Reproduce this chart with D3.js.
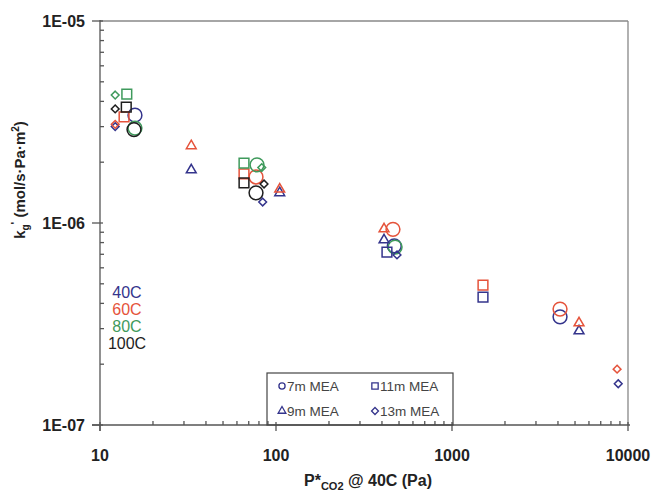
<!DOCTYPE html>
<html><head><meta charset="utf-8">
<script src="https://cdn.jsdelivr.net/npm/d3@7"></script>
<style>body{margin:0;background:#fff}svg{display:block}</style>
</head><body>
<script>
// ---- data ----
const temperatures = ["40C", "60C", "80C", "100C"];
const solutions = ["7m MEA", "9m MEA", "11m MEA", "13m MEA"];
const xTickLabels = ["10", "100", "1000", "10000"];
const yTickLabels = ["1E-07", "1E-06", "1E-05"];

// 7m MEA (circles)
const mea7_P = [15.8, 470, 4110, 77, 462, 4110, 78, 15.8, 475, 15.6, 77];
const mea7_k = [3.42e-6, 7.7e-7, 3.43e-7, 1.69e-6, 9.3e-7, 3.75e-7, 1.94e-6, 2.95e-6, 7.6e-7, 2.9e-6, 1.41e-6];
const mea7_T = ["40C","40C","40C","60C","60C","60C","80C","80C","80C","100C","100C"];
// 9m MEA (triangles)
const mea9_P = [33, 105, 411, 5270, 33, 105, 411, 5270];
const mea9_k = [1.83e-6, 1.41e-6, 8.24e-7, 2.92e-7, 2.41e-6, 1.47e-6, 9.34e-7, 3.2e-7];
const mea9_T = ["40C","40C","40C","40C","60C","60C","60C","60C"];
// 11m MEA (squares)
const mea11_P = [427, 1500, 13.7, 65.8, 1500, 14.2, 65.8, 14.1, 65.8];
const mea11_k = [7.18e-7, 4.3e-7, 3.35e-6, 1.75e-6, 4.93e-7, 4.35e-6, 1.98e-6, 3.75e-6, 1.58e-6];
const mea11_T = ["40C","40C","60C","60C","60C","80C","80C","100C","100C"];
// 13m MEA (diamonds)
const mea13_P = [12.2, 84, 487, 8800, 12.2, 8670, 12.2, 83, 12.2, 85.5];
const mea13_k = [3.0e-6, 1.27e-6, 6.95e-7, 1.6e-7, 3.08e-6, 1.89e-7, 4.3e-6, 1.88e-6, 3.67e-6, 1.56e-6];
const mea13_T = ["40C","40C","40C","40C","60C","60C","80C","80C","100C","100C"];

// ---- styles ----
const W = 655, H = 491;
const colors = {"40C": "#34348c", "60C": "#e5533b", "80C": "#3f9a5c", "100C": "#1e1e1e"};
const shapes = {"7m MEA": "circle", "9m MEA": "triangle", "11m MEA": "square", "13m MEA": "diamond"};
const sizes = {"circle": 150, "triangle": 42, "square": 95, "diamond": 30};
const diamondType = {draw(ctx, size) {
  const r = Math.sqrt(size / 2);
  ctx.moveTo(0, -r); ctx.lineTo(r, 0); ctx.lineTo(0, r); ctx.lineTo(-r, 0); ctx.closePath();
}};
function typeOf(s) {
  return s === "circle" ? d3.symbolCircle : s === "triangle" ? d3.symbolTriangle : s === "square" ? d3.symbolSquare : diamondType;
}

const svg = d3.select("body").append("svg").attr("width", W).attr("height", H);
const x = d3.scaleLog().domain([10, 10000]).range([100, 628]);
const y = d3.scaleLog().domain([1e-7, 1e-5]).range([425, 21]);

const font = "'Liberation Sans', Arial, sans-serif";
const axisColor = "#555";

// frame top/right
svg.append("line").attr("x1", x(10)).attr("x2", x(10000)).attr("y1", y(1e-5)).attr("y2", y(1e-5))
  .attr("stroke", "#888").attr("stroke-width", 1.3);
svg.append("line").attr("x1", x(10000)).attr("x2", x(10000)).attr("y1", y(1e-5)).attr("y2", y(1e-7))
  .attr("stroke", "#888").attr("stroke-width", 1.3);

function decadeTicks(lo, hi) {
  const maj = [], min = [];
  for (let e = Math.log10(lo); e <= Math.log10(hi) + 1e-9; e++) {
    const b = Math.pow(10, Math.round(e));
    maj.push(b);
    if (b < hi * 0.999) for (let m = 2; m <= 9; m++) min.push(m * b);
  }
  return {maj, min};
}
const xt = decadeTicks(10, 10000), yt = decadeTicks(1e-7, 1e-5);

// x axis
const gx = svg.append("g").attr("stroke", axisColor).attr("stroke-width", 1.3);
gx.append("line").attr("x1", x(10) - 8).attr("x2", x(10000) + 2).attr("y1", y(1e-7)).attr("y2", y(1e-7));
xt.min.forEach(v => gx.append("line").attr("x1", x(v)).attr("x2", x(v)).attr("y1", y(1e-7)).attr("y2", y(1e-7) - 4));
xt.maj.forEach(v => gx.append("line").attr("x1", x(v)).attr("x2", x(v)).attr("y1", y(1e-7) - 3).attr("y2", y(1e-7) + 6));
svg.append("g").selectAll("text").data(xt.maj).join("text")
  .attr("x", d => x(d)).attr("y", 461).attr("text-anchor", "middle")
  .attr("font-family", font).attr("font-weight", "bold").attr("font-size", 16).attr("fill", "#222")
  .text((d, i) => xTickLabels[i]);

// y axis
const gy = svg.append("g").attr("stroke", axisColor).attr("stroke-width", 1.3);
gy.append("line").attr("x1", x(10)).attr("x2", x(10)).attr("y1", y(1e-5) - 1).attr("y2", y(1e-7) + 6);
yt.min.forEach(v => gy.append("line").attr("x1", x(10)).attr("x2", x(10) + 4).attr("y1", y(v)).attr("y2", y(v)));
yt.maj.forEach(v => gy.append("line").attr("x1", x(10) - 8).attr("x2", x(10) + 3).attr("y1", y(v)).attr("y2", y(v)));
svg.append("g").selectAll("text").data(yt.maj).join("text")
  .attr("x", 85).attr("y", d => y(d)).attr("dy", "0.36em").attr("text-anchor", "end")
  .attr("font-family", font).attr("font-weight", "bold").attr("font-size", 16).attr("fill", "#222")
  .text((d, i) => yTickLabels[i]);

// axis titles
const xTitle = svg.append("text").attr("x", 368).attr("y", 486).attr("text-anchor", "middle")
  .attr("font-family", font).attr("font-weight", "bold").attr("font-size", 16).attr("fill", "#222");
xTitle.append("tspan").text("P*");
xTitle.append("tspan").attr("font-size", 11).attr("dy", 4).text("CO2");
xTitle.append("tspan").attr("dy", -4).text(" @ 40C (Pa)");

const yTitle = svg.append("text").attr("transform", "translate(25,180) rotate(-90)").attr("text-anchor", "middle")
  .attr("font-family", font).attr("font-weight", "bold").attr("font-size", 15).attr("fill", "#222");
yTitle.append("tspan").text("k");
yTitle.append("tspan").attr("font-size", 10).attr("dy", 4).text("g");
yTitle.append("tspan").attr("font-size", 11).attr("dy", -10).text("'");
yTitle.append("tspan").attr("dy", 6).text(" (mol/s·Pa·m");
yTitle.append("tspan").attr("font-size", 10).attr("dy", -6).text("2");
yTitle.append("tspan").attr("dy", 6).text(")");

// temperature labels
svg.append("g").selectAll("text").data(temperatures).join("text")
  .attr("x", 127).attr("y", (d, i) => 298 + i * 17).attr("text-anchor", "middle")
  .attr("font-family", font).attr("font-size", 16).attr("fill", d => colors[d]).text(d => d);

// points
const groups = [
  ["7m MEA", mea7_P, mea7_k, mea7_T],
  ["11m MEA", mea11_P, mea11_k, mea11_T],
  ["9m MEA", mea9_P, mea9_k, mea9_T],
  ["13m MEA", mea13_P, mea13_k, mea13_T]
];
const gp = svg.append("g");
groups.forEach(([sol, P, K, T]) => {
  const s = shapes[sol];
  const pts = P.map((p, i) => ({p, k: K[i], t: T[i]}));
  gp.append("g").selectAll("path").data(pts).join("path")
    .attr("transform", d => `translate(${x(d.p)},${y(d.k)})`)
    .attr("d", d3.symbol().type(typeOf(s)).size(sizes[s])())
    .attr("fill", "none").attr("stroke", d => colors[d.t]).attr("stroke-width", 1.5);
});

// legend
const lg = svg.append("g");
lg.append("rect").attr("x", 267).attr("y", 373).attr("width", 186).attr("height", 52)
  .attr("fill", "none").attr("stroke", "#444").attr("stroke-width", 1.2);
const legendItems = [
  {sol: "7m MEA", lx: 282, ly: 386},
  {sol: "11m MEA", lx: 375, ly: 386},
  {sol: "9m MEA", lx: 282, ly: 411},
  {sol: "13m MEA", lx: 375, ly: 411}
];
const legendSizes = {"circle": 30, "triangle": 26, "square": 40, "diamond": 24};
legendItems.forEach(it => {
  const s = shapes[it.sol];
  lg.append("path").attr("transform", `translate(${it.lx},${it.ly})`)
    .attr("d", d3.symbol().type(typeOf(s)).size(legendSizes[s])())
    .attr("fill", "none").attr("stroke", colors["40C"]).attr("stroke-width", 1.3);
  lg.append("text").attr("x", it.lx + 5).attr("y", it.ly + 5)
    .attr("font-family", font).attr("font-size", 13.5).attr("fill", "#444").text(it.sol);
});
</script>
</body></html>
